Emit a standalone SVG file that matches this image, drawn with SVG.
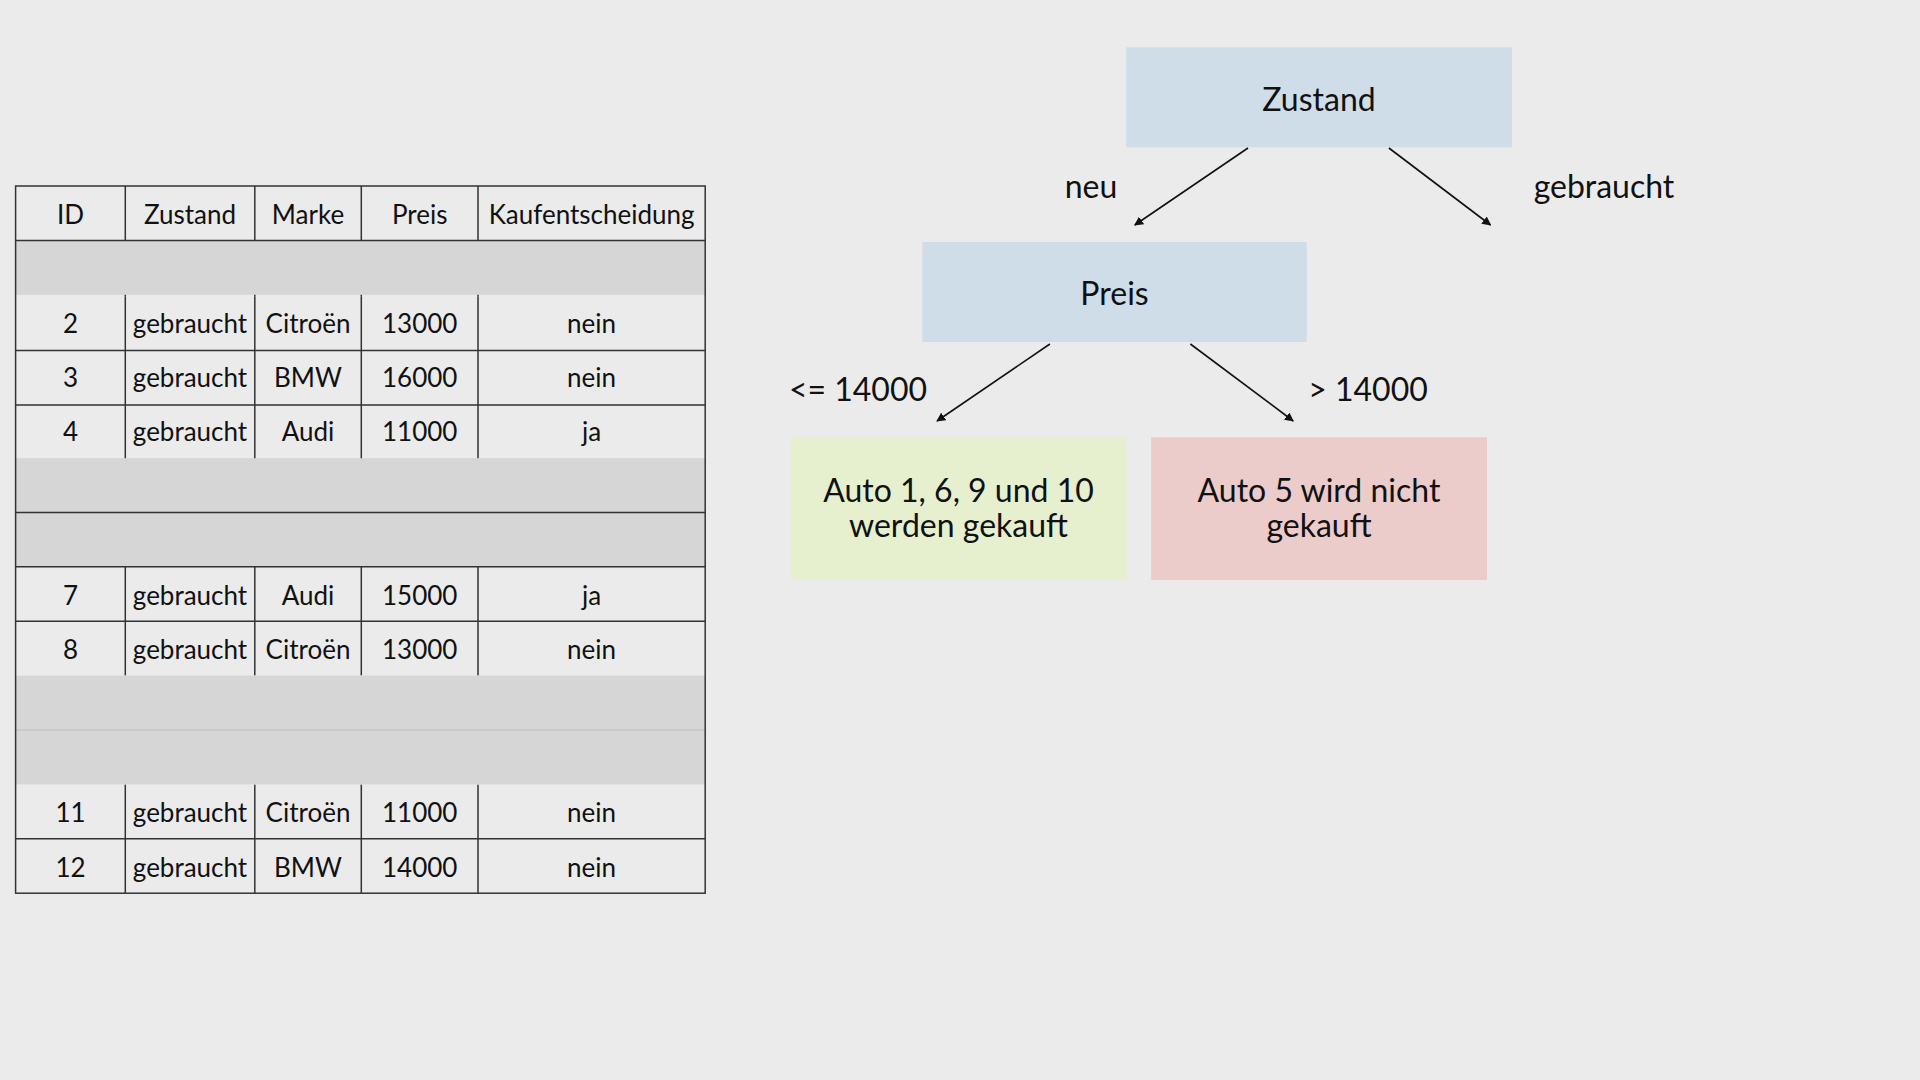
<svg xmlns="http://www.w3.org/2000/svg" width="1920" height="1080" viewBox="0 0 1920 1080">
<defs>
<style>
.t{font-family:Lato,"Liberation Sans",sans-serif;font-size:26px;fill:#111;text-anchor:middle}
.n{font-family:Lato,"Liberation Sans",sans-serif;font-size:32px;fill:#111;text-anchor:middle}
.g{stroke:#333;stroke-width:1.5;fill:none}
.gray{fill:#d6d6d6}
.c{stroke:#111;stroke-width:1.6;fill:none;marker-end:url(#ah)}
</style>
<marker id="ah" viewBox="0 0 10 10" refX="9" refY="5" markerWidth="9" markerHeight="9" markerUnits="userSpaceOnUse" orient="auto">
<path d="M0,0 L10,5 L0,10 z" fill="#111"/>
</marker>
</defs>
<rect width="1920" height="1080" fill="#ebebeb"/>
<g id="table">
<!-- vertical lines per white row block -->
<path class="g" d="M125.3,186V296.2 M254.8,186V296.2 M361.3,186V296.2 M478,186V296.2"/>
<path class="g" d="M125.3,296.2V459.6 M254.8,296.2V459.6 M361.3,296.2V459.6 M478,296.2V459.6"/>
<path class="g" d="M125.3,566.8V675.6 M254.8,566.8V675.6 M361.3,566.8V675.6 M478,566.8V675.6"/>
<path class="g" d="M125.3,784.4V893.2 M254.8,784.4V893.2 M361.3,784.4V893.2 M478,784.4V893.2"/>
<rect class="gray" x="15.6" y="240.4" width="689.6" height="54.4"/>
<rect class="gray" x="15.6" y="458.2" width="689.6" height="108.8"/>
<rect class="gray" x="15.6" y="675.6" width="689.6" height="108.8"/>
<path class="g" d="M15.6,240.4H705.2 M15.6,350.6H705.2 M15.6,405H705.2 M15.6,512.4H705.2 M15.6,566.8H705.2 M15.6,621.2H705.2 M15.6,838.8H705.2"/>
<path d="M15.6,730H705.2" stroke="#bdbdbd" stroke-width="1.2"/>
<rect class="g" x="15.6" y="186" width="689.6" height="707.2"/>
<text class="t" x="70.5" y="223.7">ID</text>
<text class="t" x="190" y="223.7">Zustand</text>
<text class="t" x="308" y="223.7">Marke</text>
<text class="t" x="419.7" y="223.7">Preis</text>
<text class="t" x="591.6" y="223.7">Kaufentscheidung</text>
<text class="t" x="70.5" y="332.5">2</text><text class="t" x="190" y="332.5">gebraucht</text><text class="t" x="308" y="332.5">Citroën</text><text class="t" x="419.7" y="332.5">13000</text><text class="t" x="591.6" y="332.5">nein</text>
<text class="t" x="70.5" y="386.9">3</text><text class="t" x="190" y="386.9">gebraucht</text><text class="t" x="308" y="386.9">BMW</text><text class="t" x="419.7" y="386.9">16000</text><text class="t" x="591.6" y="386.9">nein</text>
<text class="t" x="70.5" y="441.3">4</text><text class="t" x="190" y="441.3">gebraucht</text><text class="t" x="308" y="441.3">Audi</text><text class="t" x="419.7" y="441.3">11000</text><text class="t" x="591.6" y="441.3">ja</text>
<text class="t" x="70.5" y="604.5">7</text><text class="t" x="190" y="604.5">gebraucht</text><text class="t" x="308" y="604.5">Audi</text><text class="t" x="419.7" y="604.5">15000</text><text class="t" x="591.6" y="604.5">ja</text>
<text class="t" x="70.5" y="658.9">8</text><text class="t" x="190" y="658.9">gebraucht</text><text class="t" x="308" y="658.9">Citroën</text><text class="t" x="419.7" y="658.9">13000</text><text class="t" x="591.6" y="658.9">nein</text>
<text class="t" x="70.5" y="822.1">11</text><text class="t" x="190" y="822.1">gebraucht</text><text class="t" x="308" y="822.1">Citroën</text><text class="t" x="419.7" y="822.1">11000</text><text class="t" x="591.6" y="822.1">nein</text>
<text class="t" x="70.5" y="876.5">12</text><text class="t" x="190" y="876.5">gebraucht</text><text class="t" x="308" y="876.5">BMW</text><text class="t" x="419.7" y="876.5">14000</text><text class="t" x="591.6" y="876.5">nein</text>
</g>
<g id="node-zustand">
<rect x="1126.2" y="47.3" width="385.8" height="100" fill="#cfdde8"/>
<text class="n" x="1319" y="110.7">Zustand</text>
</g>
<g id="node-preis">
<rect x="922.3" y="242" width="384.5" height="100" fill="#cfdde8"/>
<text class="n" x="1114.5" y="305.3">Preis</text>
</g>
<g id="node-kauf">
<rect x="790.5" y="437.3" width="336" height="142.7" fill="#e6f0cf"/>
<text class="n" x="958.5" y="502.3">Auto 1, 6, 9 und 10</text>
<text class="n" x="958.5" y="537.3">werden gekauft</text>
</g>
<g id="node-nicht">
<rect x="1151.2" y="437.3" width="335.8" height="142.7" fill="#eccbcb"/>
<text class="n" x="1319" y="502.3">Auto 5 wird nicht</text>
<text class="n" x="1319" y="537.3">gekauft</text>
</g>
<g id="connectors">
<line class="c" x1="1248" y1="148" x2="1134.8" y2="225"/>
<line class="c" x1="1388.9" y1="148" x2="1490.5" y2="225"/>
<line class="c" x1="1049.9" y1="344" x2="937" y2="421"/>
<line class="c" x1="1190.4" y1="344" x2="1293.2" y2="421"/>
<text class="n" x="1091" y="198.3">neu</text>
<text class="n" x="1604" y="198.3">gebraucht</text>
<text class="n" x="858" y="401">&lt;= 14000</text>
<text class="n" x="1368" y="401">&gt; 14000</text>
</g>
</svg>
